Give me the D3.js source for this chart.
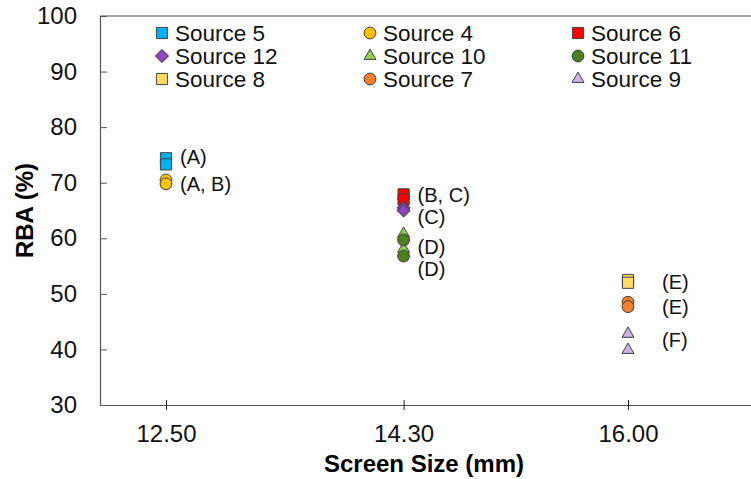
<!DOCTYPE html>
<html>
<head>
<meta charset="utf-8">
<script src="https://cdn.jsdelivr.net/npm/d3@7"></script>
<style>
  body { margin: 0; background: #fff; }
  svg { display: block; font-family: "Liberation Sans", Arial, sans-serif; }
</style>
</head>
<body>
<svg width="751" height="479"></svg>
<script>
const width = 751
const height = 479

// x categories (screen size, mm)
const categories = [12.5, 14.3, 16.0]
const yTicks = [30, 40, 50, 60, 70, 80, 90, 100]

// series, in legend order
const seriesNames = ['Source 5', 'Source 4', 'Source 6', 'Source 12', 'Source 10', 'Source 11', 'Source 8', 'Source 7', 'Source 9']
const seriesX = [12.5, 12.5, 14.3, 14.3, 14.3, 14.3, 16.0, 16.0, 16.0]
const seriesValues = [
    [74.4, 73.3],
    [70.5, 69.8],
    [67.9, 67.0],
    [65.5, 65.0],
    [60.8, 58.1],
    [59.7, 56.8],
    [52.5, 52.0],
    [48.5, 47.7],
    [42.8, 39.9]
]

// annotations next to the points
const noteText = ['(A)', '(A, B)', '(B, C)', '(C)', '(D)', '(D)', '(E)', '(E)', '(F)']
const noteX = [12.5, 12.5, 14.3, 14.3, 14.3, 14.3, 16.0, 16.0, 16.0]
const noteY = [74.6, 69.7, 67.8, 63.8, 58.4, 54.4, 52.1, 47.6, 41.7]

const shapes = ['square', 'circle', 'square', 'diamond', 'triangle', 'circle', 'square', 'circle', 'triangle']
const colors = ['#00B0F0', '#FFC000', '#FF0000', '#8E44C4', '#92D050', '#4E8021', '#FFD966', '#F47F30', '#C9B3E0']

const margin = { top: 16, right: -9, bottom: 74, left: 100 }

const svg = d3.select('svg')

const x = d3.scaleLinear()
    .domain([12, 17])
    .range([margin.left, width - margin.right])
const y = d3.scaleLinear()
    .domain([30, 100])
    .range([height - margin.bottom, margin.top])

const axisColor = '#555'

// frame
svg.append('line')
    .attr('x1', x(12)).attr('x2', x(17))
    .attr('y1', y(100)).attr('y2', y(100))
    .attr('stroke', axisColor).attr('stroke-width', 1.2)

// y axis (ticks inward)
const yAxis = svg.append('g')
    .attr('transform', `translate(${x(12)},0)`)
    .call(d3.axisRight(y).tickValues(yTicks).tickSize(7).tickFormat(d3.format('d')))
yAxis.select('.domain').attr('stroke', axisColor).attr('stroke-width', 1.2)
yAxis.selectAll('.tick line').attr('stroke', axisColor)
yAxis.selectAll('.tick text')
    .attr('x', -23)
    .attr('text-anchor', 'end')
    .attr('font-size', 24)
    .attr('font-family', '"Liberation Sans", Arial, sans-serif')
    .attr('fill', '#111')

// x axis (cross ticks)
const xAxis = svg.append('g')
    .attr('transform', `translate(0,${y(30)})`)
    .call(d3.axisBottom(x).tickValues(categories).tickSizeInner(5).tickSizeOuter(0).tickFormat(d3.format('.2f')))
xAxis.select('.domain').attr('stroke', axisColor).attr('stroke-width', 1.2)
xAxis.selectAll('.tick line').attr('stroke', '#222').attr('y1', -5).attr('y2', 5)
xAxis.selectAll('.tick text')
    .attr('y', 20)
    .attr('font-size', 24)
    .attr('font-family', '"Liberation Sans", Arial, sans-serif')
    .attr('fill', '#111')

// axis titles
svg.append('text')
    .attr('x', 424)
    .attr('y', 472)
    .attr('text-anchor', 'middle')
    .attr('font-size', 24)
    .attr('font-weight', 'bold')
    .text('Screen Size (mm)')
svg.append('text')
    .attr('transform', `translate(33,${(y(30) + y(100)) / 2}) rotate(-90)`)
    .attr('text-anchor', 'middle')
    .attr('font-size', 24)
    .attr('font-weight', 'bold')
    .text('RBA (%)')

function symbolPath(shape) {
    if (shape === 'square') return d3.symbol(d3.symbolSquare, 125)()
    if (shape === 'circle') return d3.symbol(d3.symbolCircle, 110)()
    if (shape === 'diamond') return d3.symbol(d3.symbolSquare, 82)()
    return d3.symbol(d3.symbolTriangle, 62)()
}
function symbolTransform(shape, cx, cy) {
    return shape === 'diamond'
        ? `translate(${cx},${cy}) rotate(45)`
        : `translate(${cx},${cy})`
}

// points
const points = seriesNames.flatMap((name, i) =>
    seriesValues[i].map(v => ({ i, x: seriesX[i], v })))

svg.append('g')
    .selectAll('path')
    .data(points)
    .enter()
    .append('path')
    .attr('d', d => symbolPath(shapes[d.i]))
    .attr('transform', d => symbolTransform(shapes[d.i], x(d.x), y(d.v)))
    .attr('fill', d => colors[d.i])
    .attr('stroke', '#404040')
    .attr('stroke-width', 1)

// annotations
svg.append('g')
    .selectAll('text')
    .data(noteText)
    .enter()
    .append('text')
    .attr('x', (d, i) => x(noteX[i]) + (noteX[i] === 16.0 ? 34 : 14))
    .attr('y', (d, i) => y(noteY[i]))
    .attr('dy', '0.35em')
    .attr('font-size', 20)
    .attr('fill', '#111')
    .text(d => d)

// legend, 3 columns
const legendCols = [162, 370, 578]
const legendRows = [33, 56, 79]
const legend = svg.append('g')
    .selectAll('g')
    .data(seriesNames)
    .enter()
    .append('g')
    .attr('transform', (d, i) => `translate(${legendCols[i % 3]},${legendRows[Math.floor(i / 3)]})`)

legend.append('path')
    .attr('d', (d, i) => symbolPath(shapes[i]))
    .attr('transform', (d, i) => symbolTransform(shapes[i], 0, 0))
    .attr('fill', (d, i) => colors[i])
    .attr('stroke', '#404040')
    .attr('stroke-width', 1)

legend.append('text')
    .attr('x', 13)
    .attr('dy', '0.35em')
    .attr('font-size', 22.5)
    .attr('fill', '#111')
    .text(d => d)
</script>
</body>
</html>
